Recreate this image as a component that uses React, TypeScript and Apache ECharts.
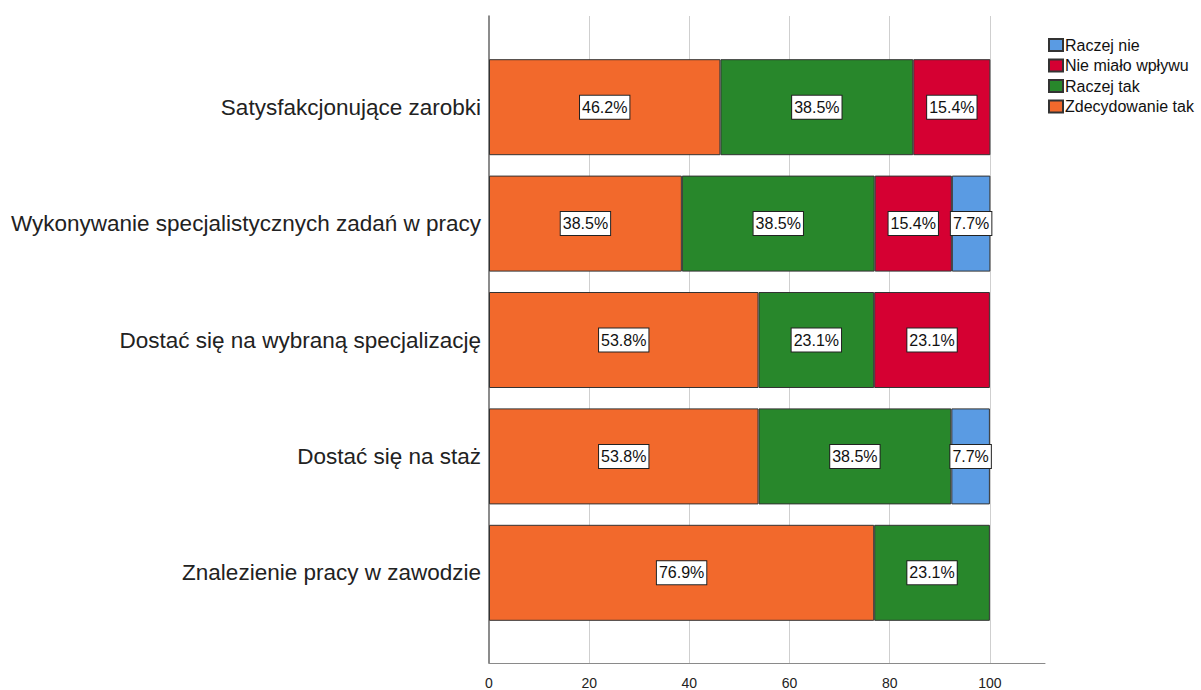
import React, { useEffect, useRef } from "react";
import * as echarts from "echarts";

const categories = [
  "Satysfakcjonujące zarobki",
  "Wykonywanie specjalistycznych zadań w pracy",
  "Dostać się na wybraną specjalizację",
  "Dostać się na staż",
  "Znalezienie pracy w zawodzie",
];

const zdecydowanieTak = [46.2, 38.5, 53.8, 53.8, 76.9];
const raczejTak = [38.5, 38.5, 23.1, 38.5, 23.1];
const nieMialoWplywu = [15.4, 15.4, 23.1, null, null];
const raczejNie = [null, 7.7, null, 7.7, null];

const xTicks = [0, 20, 40, 60, 80, 100];

const seriesDefs = [
  { name: "Zdecydowanie tak", data: zdecydowanieTak, color: "#F2692C" },
  { name: "Raczej tak", data: raczejTak, color: "#28872B" },
  { name: "Nie miało wpływu", data: nieMialoWplywu, color: "#D50032" },
  { name: "Raczej nie", data: raczejNie, color: "#5A9BE3" },
];

const legendOrder = ["Raczej nie", "Nie miało wpływu", "Raczej tak", "Zdecydowanie tak"];

const FONT = "'Liberation Sans', Arial, sans-serif";

export default function App() {
  const ref = useRef<HTMLDivElement>(null);
  useEffect(() => {
    document.body.style.margin = "0";
    const chart = echarts.init(ref.current!, null, { renderer: "svg" });
    const XMAX = 111;
    chart.setOption({
      animation: false,
      backgroundColor: "#ffffff",
      textStyle: { fontFamily: FONT },
      legend: {
        orient: "vertical",
        left: 1043,
        top: 32,
        icon: "rect",
        itemWidth: 14,
        itemHeight: 12,
        itemGap: 4.5,
        data: legendOrder,
        textStyle: { fontSize: 16, color: "#111", fontFamily: FONT, lineHeight: 16, padding: [0, 0, 0, -3] },
      },
      grid: [
        { left: 489, right: 1201 - 1045, top: 16, bottom: 690 - 663 },
        { left: 489, right: 1201 - 1045, top: 49, bottom: 690 - 631 },
      ],
      xAxis: [
        {
          gridIndex: 0,
          type: "value",
          min: xTicks[0],
          max: XMAX,
          interval: 20,
          axisLine: { show: true, lineStyle: { color: "#8a8a8a", width: 1 } },
          axisTick: { show: false },
          axisLabel: {
            showMaxLabel: false,
            fontSize: 14,
            color: "#222",
            margin: 13,
            fontFamily: FONT,
            formatter: (v: number) => (xTicks.includes(v) ? String(v) : ""),
          },
          splitLine: { show: true, showMinLine: false, showMaxLine: false, lineStyle: { color: "#cfcfcf", width: 1 } },
        },
        {
          gridIndex: 1,
          type: "value",
          min: 0,
          max: XMAX,
          show: false,
        },
      ],
      yAxis: [
        {
          gridIndex: 0,
          type: "value",
          min: 0,
          max: 1,
          axisLine: { show: true, onZero: false, lineStyle: { color: "#666", width: 1.5 } },
          axisTick: { show: false },
          axisLabel: { show: false },
          splitLine: { show: false },
        },
        {
          gridIndex: 1,
          type: "category",
          inverse: true,
          data: categories,
          axisLine: { show: false },
          axisTick: { show: false },
          axisLabel: { fontSize: 22.5, color: "#222", margin: 8, fontFamily: FONT, padding: [7, 0, 0, 0] },
          splitLine: { show: false },
        },
      ],
      series: seriesDefs.map((s) => ({
        name: s.name,
        type: "bar",
        stack: "total",
        xAxisIndex: 1,
        yAxisIndex: 1,
        barWidth: 96,
        data: s.data,
        itemStyle: { color: s.color, borderColor: "#333", borderWidth: 1 },
        label: {
          show: true,
          position: "inside",
          formatter: (p: any) => (p.value == null ? "" : Number(p.value).toFixed(1) + "%"),
          fontSize: 16,
          lineHeight: 16,
          color: "#111",
          fontFamily: FONT,
          backgroundColor: "#fff",
          borderColor: "#222",
          borderWidth: 1,
          padding: [4, 2, 3, 2],
          textBorderWidth: 0,
        },
      })),
    });
    return () => chart.dispose();
  }, []);
  return <div ref={ref} style={{ width: 1201, height: 690 }} />;
}
